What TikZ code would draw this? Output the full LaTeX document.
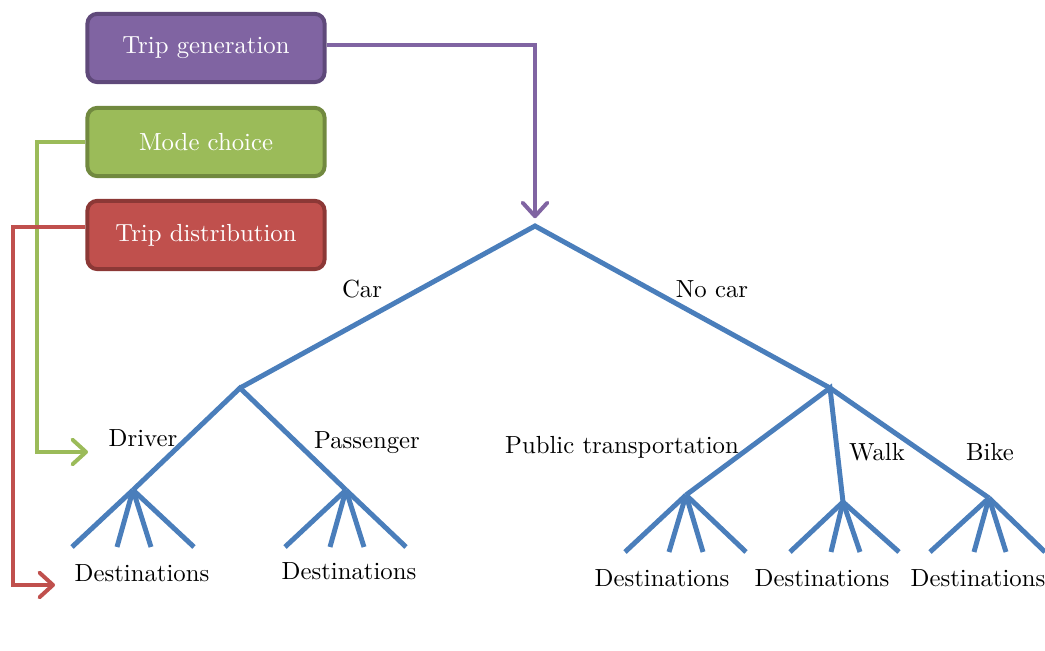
\documentclass[tikz,border=0pt]{standalone}
\usepackage{xcolor}
\usepackage{tikz}
\usetikzlibrary{shapes,arrows,positioning,calc,arrows.meta}

\definecolor{genfill}{HTML}{8064A2}
\definecolor{gendraw}{HTML}{5F497A}
\definecolor{modefill}{HTML}{9BBB59}
\definecolor{modedraw}{HTML}{71893F}
\definecolor{distfill}{HTML}{C0504D}
\definecolor{distdraw}{HTML}{8C3836}
\definecolor{treeblue}{HTML}{4A7EBB}

\tikzset{
  stagebox/.style={draw, rounded corners=4pt, line width=1.6pt, text=white,
    minimum width=3.37cm, minimum height=0.97cm},
  tree/.style={treeblue, line width=2pt},
  link/.style={line width=1.6pt, -{Straight Barb[length=5.5pt,width=10pt,round]}}
}

\begin{document}
\begin{tikzpicture}[x=0.0142cm, y=-0.0142cm]
        \useasboundingbox (0,0) rectangle (1045,651);

        % Model stages
        \node[stagebox, fill=genfill, draw=gendraw] (tripgen) at (206,48) {Trip generation};
        \node[stagebox, fill=modefill, draw=modedraw] (modechoice) at (206,142) {Mode choice};
        \node[stagebox, fill=distfill, draw=distdraw] (tripdist) at (206,235) {Trip distribution};

        % Tree nodes
        \coordinate (root) at (535,226);
        \coordinate (car) at (240,388);
        \coordinate (nocar) at (830,388);
        \coordinate (driver) at (133,490);
        \coordinate (passenger) at (346,490);
        \coordinate (public) at (686,495);
        \coordinate (walk) at (843,502);
        \coordinate (bike) at (989,498);

        \draw[tree] (car) -- (root) -- (nocar);
        \draw[tree] (driver) -- (car) -- (passenger);
        \draw[tree] (public) -- (nocar) -- (walk);
        \draw[tree] (nocar) -- (bike);

        % Destination fans
        \foreach \p/\dy/\a/\b/\c/\d in {driver/57/-61/-16/18/61, passenger/57/-61/-16/18/60,
            public/57/-61/-17/17/60, walk/50/-53/-12/17/56, bike/54/-59/-15/17/56} {
          \foreach \o [count=\k] in {\a,\b,\c,\d} {
            \coordinate (\p-\k) at ($(\p)+(\o,\dy)$);
            \draw[tree] (\p) -- (\p-\k);
          }
        }

        % Branch labels
        \node (lcar) at (362,289) {Car};
        \node (lnocar) at (712,289) {No car};
        \node (ldriver) at (143,438) {Driver};
        \node (lpassenger) at (367,443) {Passenger};
        \node (lpublic) at (622,447) {Public transportation};
        \node (lwalk) at (877,452) {Walk};
        \node (lbike) at (990,452) {Bike};

        \node (dest1) at (142,573) {Destinations};
        \node (dest2) at (349,571) {Destinations};
        \node (dest3) at (662,578) {Destinations};
        \node (dest4) at (822,578) {Destinations};
        \node (dest5) at (978,578) {Destinations};

        % Stage links
        \coordinate (modearr) at (88,452);
        \coordinate (distarr) at (55,585);
        \draw[link, genfill] ($(tripgen.east)+(0,-3)$) -| ([yshift=0.11cm]root);
        \draw[link, modefill] (modechoice.west) -- ++(-48,0) |- (modearr);
        \draw[link, distfill] ($(tripdist.west)+(0,-8)$) -- ++(-72,0) |- (distarr);
    \end{tikzpicture}
\end{document}
